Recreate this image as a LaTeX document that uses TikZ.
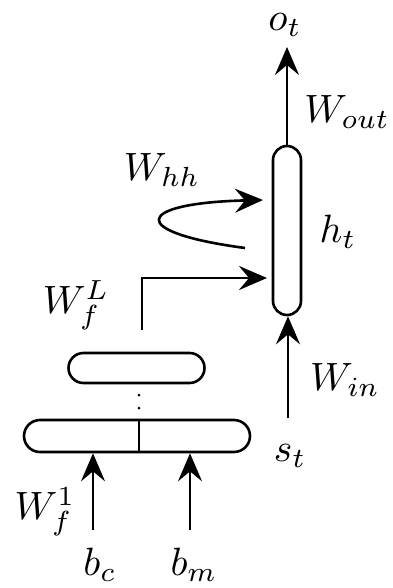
\documentclass[tikz,border=0pt]{standalone}
\usetikzlibrary{arrows.meta,calc}
\newcommand{\mylbl}[1]{\scalebox{3.95}{$#1$}}
\begin{document}
\begin{tikzpicture}[x=1pt,y=-1pt,line width=2.6pt,
  arr/.style={-{Stealth[length=28pt,width=24pt,inset=10pt]}},
  lbl/.style={inner sep=0pt},
  box/.style={draw,rectangle,inner sep=0pt}]
\useasboundingbox (0,0) rectangle (392,588);
% boxes
\node[box,minimum width=28pt,minimum height=169pt,rounded corners=14pt] (h) at (287,230.5) {};
\node[box,minimum width=136pt,minimum height=30pt,rounded corners=15pt] (up) at (136.5,368) {};
\node[box,minimum width=226pt,minimum height=32pt,rounded corners=16pt] (low) at (137,436) {};
\draw[line width=2pt] (low.north -| 139,0) -- (low.south -| 139,0);
% dots
\fill (139,395) circle (1.5pt);
\fill (139,408) circle (1.5pt);
% labels
\node[lbl] (o) at (285,25) {\mylbl{o_t}};
\node[lbl] (wout) at (347,112) {\mylbl{W_{out}}};
\node[lbl] (whh) at (162,170) {\mylbl{W_{hh}}};
\node[lbl] (ht) at (338,232) {\mylbl{h_t}};
\node[lbl] (wfl) at (76,305) {\mylbl{W_f^L}};
\node[lbl] (win) at (345,380) {\mylbl{W_{in}}};
\node[lbl] (st) at (290,456) {\mylbl{s_t}};
\node[lbl] (wf1) at (45,512) {\mylbl{W_f^1}};
\node[lbl] (bc) at (100,565) {\mylbl{b_c}};
\node[lbl] (bm) at (194,565) {\mylbl{b_m}};
% coordinates
\coordinate (otip) at (287,47);
\coordinate (loopS) at (245,248);
\coordinate (loopE) at (263,200);
\coordinate (fS) at (142,330);
\coordinate (fC) at (142,278);
\coordinate (fE) at (267,278);
\coordinate (inS) at (288,418);
\coordinate (bcS) at (93,530);
\coordinate (bmS) at (190,530);
% connectors
\draw[arr] (h.north) -- (otip);
\draw[arr] (loopS) .. controls (125,232) and (135,203) .. (loopE);
\draw[arr] (fS) -- (fC) -- (fE);
\draw[arr] (inS) -- (inS |- h.south);
\draw[arr] (bcS) -- (bcS |- low.south);
\draw[arr] (bmS) -- (bmS |- low.south);
\end{tikzpicture}
\end{document}
